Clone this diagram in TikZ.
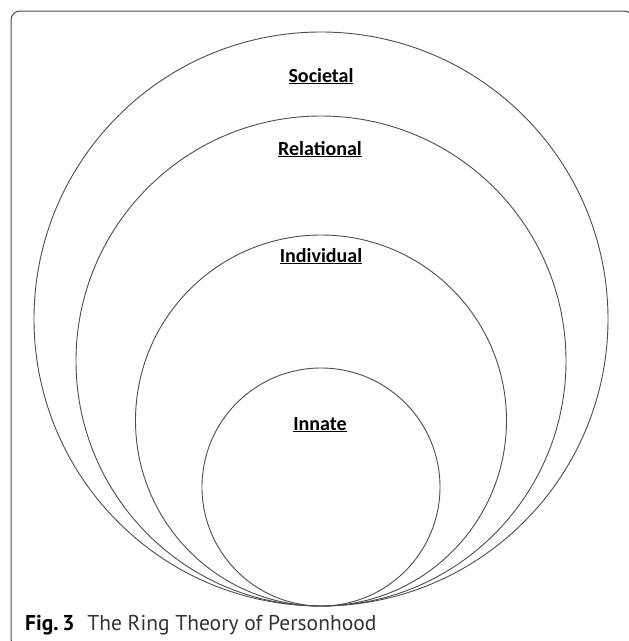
\documentclass[tikz,border=0pt]{standalone}
\usepackage{fontspec}
\setmainfont{Carlito}
\newfontfamily\capfont{PT Sans}
\tikzset{
  ring/.style={draw=black!70, line width=0.9pt},
  ringlabel/.style={anchor=base, inner sep=0pt, font=\fontsize{20}{24}\selectfont\bfseries},
  frame/.style={draw=black!70, line width=1pt, rounded corners=9pt}
}
\begin{document}
\begin{tikzpicture}[x=1pt, y=-1pt]
\useasboundingbox (0,0) rectangle (629,641);

% Outer frame (cropped at right and bottom)
\begin{scope}
\clip (0,0) rectangle (629,641);
\draw[frame] (11,11) rectangle (633,648);
\end{scope}

% Rings touching at the bottom
\coordinate (touch) at (321,606);
\foreach \r in {287, 245, 185.5, 119} {
    \draw[ring] (touch) ++(0,-\r) circle[radius=\r];
}

% Ring labels
\node[ringlabel] (societal) at (321,82) {\underline{Societal}};
\node[ringlabel] (relational) at (320,155) {\underline{Relational}};
\node[ringlabel] (individual) at (321,262) {\underline{Individual}};
\node[ringlabel] (innate) at (320,430) {\underline{Innate}};

% Caption
\node[anchor=base west, inner sep=0pt, font=\capfont\fontsize{21.5}{26}\selectfont] (caption) at (25,630)
  {\textbf{Fig.\,3}\hspace{0.6em}\color{black!80}The Ring Theory of Personhood};

\end{tikzpicture}
\end{document}
